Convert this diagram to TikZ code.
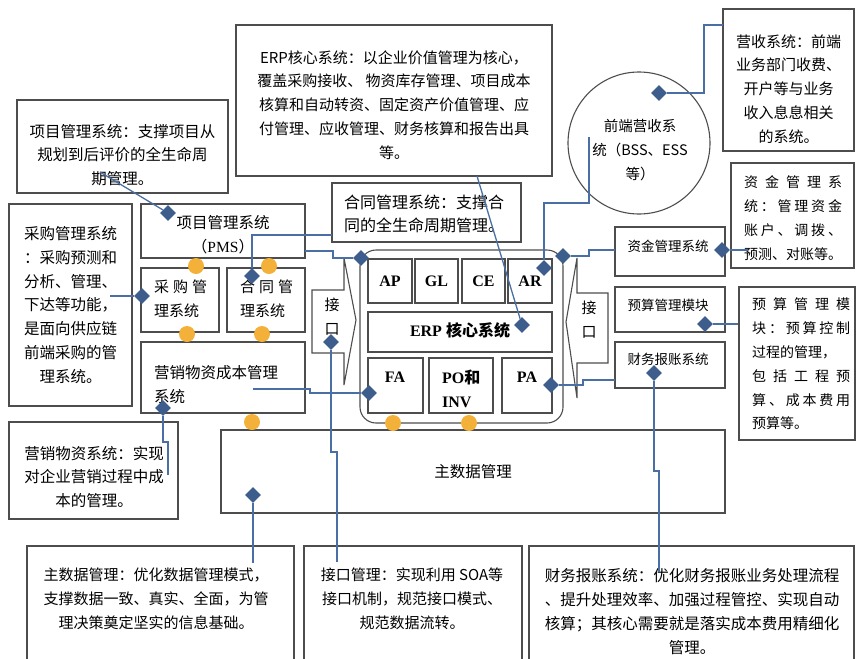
\documentclass[tikz,border=0pt]{standalone}
\usepackage{fontspec}
\setmainfont{Noto Sans CJK SC}
\newfontfamily\timesfont{Liberation Serif}
\usepackage{tikz}
\usetikzlibrary{shapes.geometric}

\definecolor{boxgray}{HTML}{4D4D4D}
\definecolor{linkblue}{HTML}{4A6FA5}
\definecolor{dblue}{HTML}{3D5E8C}
\definecolor{dotorange}{HTML}{F4B13A}

\newcommand{\fs}[1]{\fontsize{#1}{23.8}\selectfont}
\newcommand{\spread}[2]{\makebox[#1][s]{#2}}

\begin{document}
\begin{tikzpicture}[x=1pt, y=-1pt,
  box/.style={draw=boxgray, line width=1.1pt, inner sep=0pt},
  txt/.style={inner sep=0pt, align=center, font=\fs{15}},
  small/.style={inner sep=0pt, font=\fs{13.5}},
  blk/.style={inner sep=0pt, font=\fs{16}\timesfont\bfseries},
  link/.style={draw=linkblue, line width=1.3pt},
  dia/.style={diamond, fill=dblue, minimum width=16, minimum height=16, inner sep=0pt}]
\useasboundingbox (0,0) rectangle (860,659);
\clip (0,0) rectangle (860,659);

% description boxes
\node[box, minimum width=316, minimum height=151] (erpdesc) at (394,100.5) {};
\node[txt] (erpdesctxt) at (394,105) {ERP核心系统：以企业价值管理为核心，\\覆盖采购接收、 物资库存管理、项目成本\\核算和自动转资、固定资产价值管理、应\\付管理、应收管理、财务核算和报告出具\\等。};
\node[box, minimum width=211, minimum height=93] (pmsdesc) at (122.5,146.5) {};
\node[txt, font=\fs{15.5}] (pmsdesctxt) at (122.5,155) {项目管理系统：支撑项目从\\规划到后评价的全生命周\\期管理。};
\node[box, minimum width=131, minimum height=142] (revdesc) at (788.5,80) {};
\node[txt] (revdesctxt) at (788.5,89) {营收系统：前端\\业务部门收费、\\开户等与业务\\收入息息相关\\的系统。};
\node[box, minimum width=123, minimum height=105] (funddesc) at (792.5,215.5) {};
\node[txt, align=left, font=\fs{14}] (funddesctxt) at (793,218) {\spread{98pt}{资\hfil 金\hfil 管\hfil 理\hfil 系}\\\spread{98pt}{统\hfil ：\hfil 管\hfil 理\hfil 资\hfil 金}\\\spread{98pt}{账\hfil 户\hfil 、\hfil 调\hfil 拨\hfil 、}\\预测、对账等。};
\node[box, minimum width=189, minimum height=59] (contdesc) at (426.5,212.5) {};
\node[txt, align=left, font=\fs{16}, anchor=west] (contdesctxt) at (344,214) {合同管理系统：支撑合\\同的全生命周期管理。};
\node[box, minimum width=123, minimum height=202] (buydesc) at (70.5,305) {};
\node[txt, font=\fs{15.5}] (buydesctxt) at (70.5,305) {采购管理系统\\：采购预测和\\分析、管理、\\下达等功能，\\是面向供应链\\前端采购的管\\理系统。};
\node[box, minimum width=169, minimum height=97] (mktdesc) at (93.5,470.5) {};
\node[txt, font=\fs{15.5}] (mktdesctxt) at (94,477) {营销物资系统：实现\\对企业营销过程中成\\本的管理。};
\node[box, minimum width=116, minimum height=153] (buddesc) at (797,363.5) {};
\node[txt, align=left, font=\fs{14}, anchor=west] (buddesctxt) at (752,364) {\spread{98pt}{预\hfil 算\hfil 管\hfil 理\hfil 模}\\\spread{98pt}{块\hfil ：\hfil 预\hfil 算\hfil 控\hfil 制}\\过程的管理，\\\spread{98pt}{包\hfil 括\hfil 工\hfil 程\hfil 预}\\\spread{98pt}{算\hfil 、\hfil 成\hfil 本\hfil 费\hfil 用}\\预算等。};
\node[box, minimum width=267, minimum height=140] (mdmdesc) at (160.5,616) {};
\node[txt] (mdmdesctxt) at (156,599) {主数据管理：优化数据管理模式，\\支撑数据一致、真实、全面，为管\\理决策奠定坚实的信息基础。};
\node[box, minimum width=218, minimum height=140] (ifdesc) at (413,616) {};
\node[txt] (ifdesctxt) at (412,599) {接口管理：实现利用 SOA等\\接口机制，规范接口模式、\\规范数据流转。};
\node[box, minimum width=325, minimum height=140] (findesc) at (691.5,616) {};
\node[txt, font=\fs{15.5}] (findesctxt) at (692,611.5) {财务报账系统：优化财务报账业务处理流程\\、提升处理效率、加强过程管控、实现自动\\核算；其核心需要就是落实成本费用精细化\\管理。};

% systems
\node[box, circle, minimum size=142] (bss) at (639,143) {};
\node[txt, font=\fs{14.5}] (bsstxt) at (640,150) {前端营收系\\统（BSS、ESS\\等）};
\node[box, minimum width=164, minimum height=54] (pms) at (223,231) {};
\node[txt, font=\fs{15.5}] (pmstxt) at (223,234.5) {项目管理系统\\（{\timesfont PMS}）};
\node[box, minimum width=78, minimum height=64] (buybox) at (180,300) {};
\node[txt, align=left, font=\fs{15}, anchor=west] (buytxt) at (154,298.5) {\spread{53pt}{采\hfil 购\hfil 管}\\理系统};
\node[box, minimum width=78, minimum height=64] (contbox) at (266,300) {};
\node[txt, align=left, font=\fs{15}, anchor=west] (conttxt) at (240,298.5) {\spread{53pt}{合\hfil 同\hfil 管}\\理系统};
\node[box, minimum width=164, minimum height=71] (mktbox) at (223,377.5) {};
\node[txt, align=left, font=\fs{15.5}, anchor=west] (mkttxt) at (154,384.5) {营销物资成本管理\\系统};
\node[box, minimum width=504, minimum height=83, font=\fs{15.5}] (mdmbox) at (473,471.5) {主数据管理};
\node[box, minimum width=110, minimum height=49] (fundbox) at (670,251.5) {};
\node[small] (fundtxt) at (668,246) {资金管理系统};
\node[box, minimum width=110, minimum height=45] (budbox) at (670,309.5) {};
\node[small] (budtxt) at (668,305) {预算管理模块};
\node[box, minimum width=110, minimum height=46] (finbox) at (670,365) {};
\node[small] (fintxt) at (668,359) {财务报账系统};

% ERP core
\draw[box, rounded corners=16pt] (360,250) rectangle (563,423);
\node[box, minimum width=44, minimum height=44, blk] (ap) at (390,281) {AP};
\node[box, minimum width=43, minimum height=44, blk] (gl) at (436.5,281) {GL};
\node[box, minimum width=43, minimum height=44, blk] (ce) at (483.5,281) {CE};
\node[box, minimum width=44, minimum height=44, blk] (ar) at (530,281) {AR};
\node[box, minimum width=184, minimum height=40] (core) at (460,332) {};
\node[blk] (coretxt) at (460,330) {ERP {\rmfamily\bfseries 核心系统}};
\node[box, minimum width=55, minimum height=55] (fa) at (395.5,385.5) {};
\node[blk] (fatxt) at (395,377) {FA};
\node[box, minimum width=64, minimum height=55] (poinv) at (461,385.5) {};
\node[blk, align=left, anchor=west] (poinvtxt) at (442,389) {PO{\rmfamily\bfseries 和}\\INV};
\node[box, minimum width=50, minimum height=55] (pa) at (527,385.5) {};
\node[blk] (patxt) at (527,377) {PA};

% interfaces
\draw[box] (312,290) -- (344,290) -- (344,258) -- (356,320) -- (344,385) -- (344,353) -- (312,353) -- cycle;
\node[txt] (ifl) at (332,316.5) {接\\口};
\draw[box] (608,293) -- (577,293) -- (577,258) -- (566,322) -- (577,398) -- (577,363) -- (608,363) -- cycle;
\node[txt] (ifr) at (589,319.5) {接\\口};

% diamonds
\node[dia] (dPMS) at (168,213) {};
\node[dia] (dERP) at (522,325) {};
\node[dia] (dCont) at (252,276) {};
\node[dia] (dFrame) at (361,258) {};
\node[dia] (dAR) at (544,268) {};
\node[dia] (dCirc) at (659,93) {};
\node[dia] (dFrameR) at (563,256) {};
\node[dia] (dFund) at (722,250) {};
\node[dia] (dBud) at (705,324) {};
\node[dia] (dPA) at (551,385) {};
\node[dia] (dFin) at (654,373) {};
\node[dia] (dIf) at (331,342) {};
\node[dia] (dFA) at (369,393) {};
\node[dia] (dMkt) at (163,408) {};
\node[dia] (dMdm) at (253,495) {};
\node[dia] (dBuy) at (142,296) {};

% free ends
\coordinate (cPms) at (100,172);
\coordinate (cErp) at (477,176);
\coordinate (cCont) at (332,235);
\coordinate (cPmsR) at (305,251);
\coordinate (cCirc) at (589,137);
\coordinate (cRev) at (723,25);
\coordinate (cFund) at (615,250);
\coordinate (cFundD) at (748,250);
\coordinate (cFin) at (615,380);
\coordinate (cFinD) at (659,572);
\coordinate (cIfD) at (337,562);
\coordinate (cMkt) at (253,389);
\coordinate (cMktD) at (168,475);
\coordinate (cMdmD) at (253,563);
\coordinate (cBuy) at (110,296);

% connectors
\draw[link] (cPms) -- (dPMS);
\draw[link] (cErp) -- (dERP);
\draw[link] (cCont) -| (dCont);
\draw[link] (cPmsR) -- (333,251) -- (333,258) -- (dFrame);
\draw[link] (cCirc) -- (589,203) -| (dAR);
\draw[link] (cRev) -- (704,25) |- (dCirc);
\draw[link] (dFrameR) -- (589,256) -- (589,250) -- (cFund);
\draw[link] (dFund) -- (cFundD);
\draw[link] (dBud) -- (buddesc.west |- dBud);
\draw[link] (dPA) -- (583,385) -- (583,380) -- (cFin);
\draw[link] (dFin) -- (654,471) -- (659,471) -- (cFinD);
\draw[link] (dIf) -- (331,452) -- (337,452) -- (cIfD);
\draw[link] (cMkt) -- (310,389) -- (310,393) -- (dFA);
\draw[link] (dMkt) -- (163,442) -- (168,442) -- (cMktD);
\draw[link] (dMdm) -- (cMdmD);
\draw[link] (cBuy) -- (dBuy);

% joints
\foreach \x/\y in {196/266, 269/266, 187/334, 262/334, 252/422, 393/423, 469/423}
  \fill[dotorange] (\x,\y) circle (8pt);
\end{tikzpicture}
\end{document}
